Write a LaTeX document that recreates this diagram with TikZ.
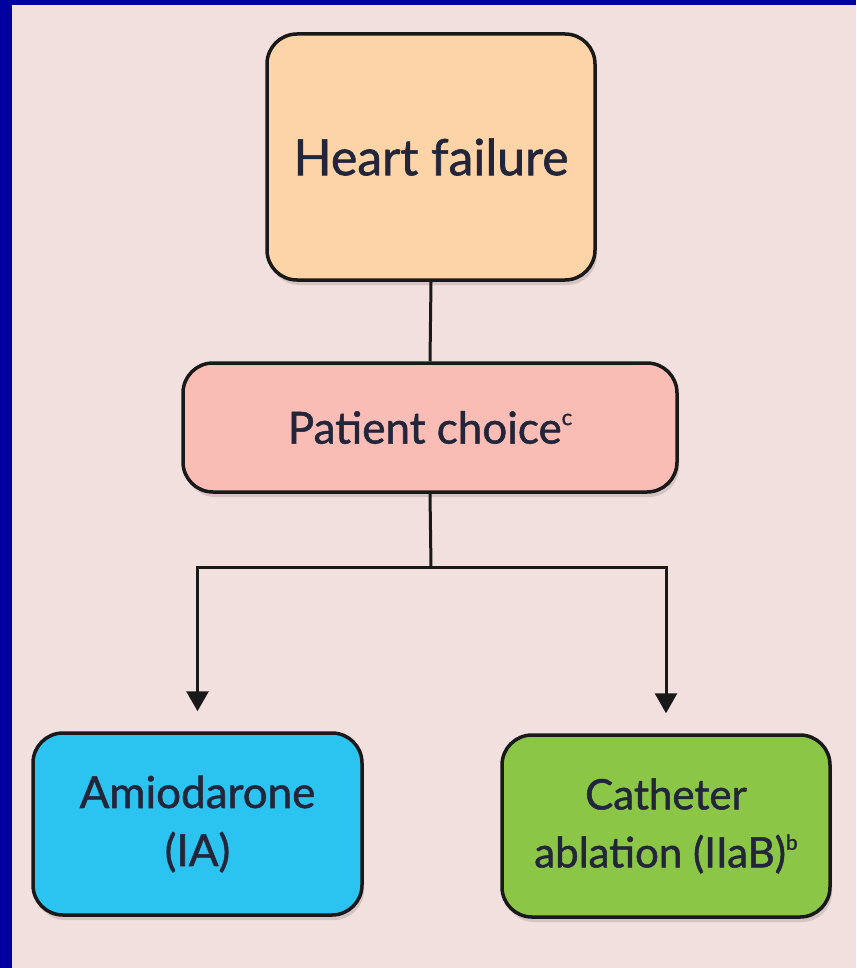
\documentclass[tikz,border=0pt]{standalone}
\usepackage{fontspec}
\setmainfont{Lato}[FakeBold=1.2]
\usetikzlibrary{arrows.meta,shadows}
\definecolor{frameblue}{HTML}{0000A0}
\definecolor{panelpink}{HTML}{F2E0DF}
\definecolor{peach}{HTML}{FDD3A8}
\definecolor{rose}{HTML}{F9BDB6}
\definecolor{skyblue}{HTML}{2BC3F0}
\definecolor{leafgreen}{HTML}{8BC646}
\definecolor{inkdark}{HTML}{23263A}
\tikzset{
  box/.style={draw=black!90, line width=3.5pt, rounded corners=30pt, align=center,
    text=inkdark, inner sep=0pt,
    drop shadow={shadow xshift=2pt, shadow yshift=-5pt, fill=black, opacity=0.12}},
  conn/.style={draw=black!90, line width=3pt},
  arr/.style={conn, -{Triangle[width=22pt,length=20pt]}, shorten >=20pt}
}
\begin{document}
\begin{tikzpicture}[x=1pt,y=-1pt]
\useasboundingbox (0,0) rectangle (856,968);
\fill[frameblue] (0,0) rectangle (856,968);
\fill[panelpink] (12,5) rectangle (856,968);

\node[box, fill=peach, minimum width=328pt, minimum height=246pt,
  font=\fontsize{50}{60}\selectfont] (heart) at (431,157) {Heart failure};
\node[box, fill=rose, minimum width=494pt, minimum height=129pt,
  font=\fontsize{44}{52}\selectfont] (patient) at (430,427.5) {Patient choice\raisebox{0.42em}{\fontsize{22}{22}\selectfont c}};
\node[box, fill=skyblue, minimum width=329pt, minimum height=182pt,
  font=\fontsize{44}{58}\selectfont] (amio) at (197.5,824) {Amiodarone\\(IA)};
\node[box, fill=leafgreen, minimum width=328pt, minimum height=182pt,
  font=\fontsize{42}{58}\selectfont] (cath) at (666,826) {Catheter\\ablation (IIaB)\raisebox{0.42em}{\fontsize{21}{21}\selectfont b}};

\coordinate (j) at (431,567);
\draw[conn] (heart.south) -- (patient.north);
\draw[conn] (patient.south) -- (j);
\draw[arr] (j) -| (amio.north);
\draw[arr] (j) -| (cath.north);
\end{tikzpicture}
\end{document}
